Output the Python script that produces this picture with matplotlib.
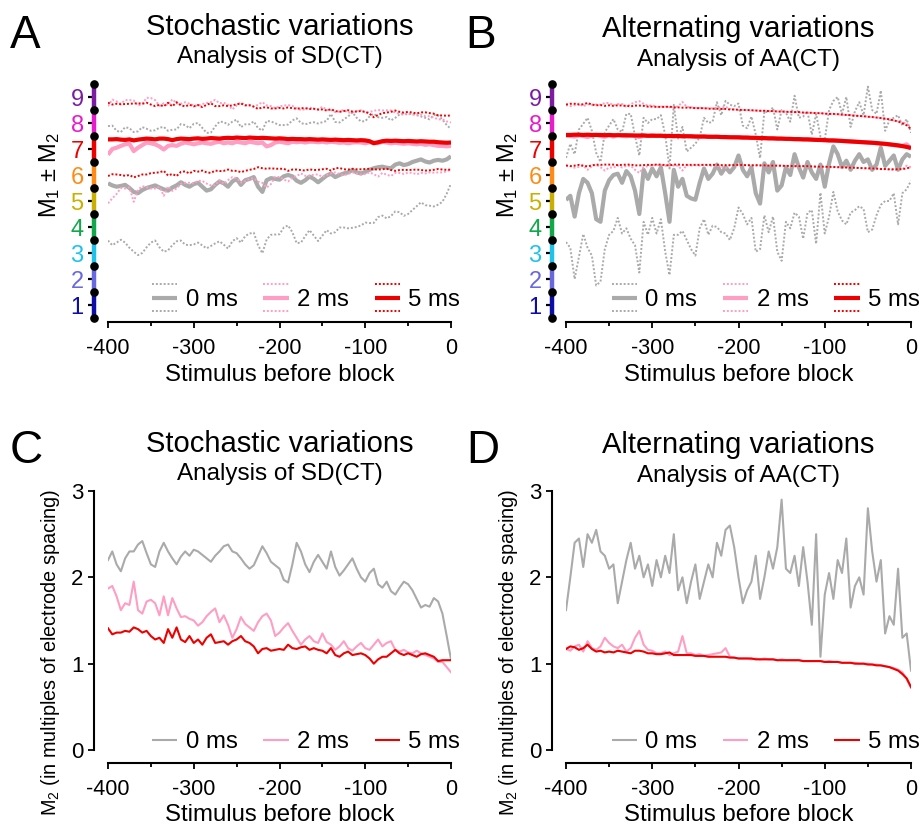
import numpy as np
import matplotlib
matplotlib.use('Agg')
import matplotlib.pyplot as plt
from matplotlib.legend_handler import HandlerBase
from matplotlib.lines import Line2D
from matplotlib.ticker import MultipleLocator

plt.rcParams['font.family'] = ['Liberation Sans', 'DejaVu Sans']
plt.rcParams['mathtext.fontset'] = 'custom'
plt.rcParams['mathtext.rm'] = 'Liberation Sans'
plt.rcParams['mathtext.it'] = 'Liberation Sans:italic'
plt.rcParams['mathtext.bf'] = 'Liberation Sans:bold'

# ---------------- data ----------------
stimulus = np.arange(-400, 1, 5)          # stimulus before block
conditions = ['0 ms', '2 ms', '5 ms']
xticks = [-400, -300, -200, -100, 0]
xtick_labels = ['-400', '-300', '-200', '-100', '0']
electrodes = [1, 2, 3, 4, 5, 6, 7, 8, 9]
electrode_labels = ['1', '2', '3', '4', '5', '6', '7', '8', '9']
m2_ticks = [0, 1, 2, 3]

# M1 (mean position) - stochastic (SD) analysis
sd_m1_0 = [5.68, 5.60, 5.55, 5.58, 5.62, 5.50, 5.35, 5.30, 5.42, 5.50,
           5.55, 5.60, 5.52, 5.45, 5.40, 5.52, 5.60, 5.72, 5.62, 5.55,
           5.65, 5.70, 5.55, 5.40, 5.45, 5.62, 5.75, 5.68, 5.55, 5.75,
           5.85, 5.62, 5.80, 5.85, 5.92, 5.55, 5.35, 5.80, 5.88, 5.85,
           5.82, 5.95, 6.00, 5.95, 5.78, 5.70, 5.80, 5.94, 5.85, 5.72,
           5.85, 5.98, 6.05, 5.92, 6.00, 6.06, 6.10, 6.19, 6.10, 6.06,
           6.12, 6.20, 6.26, 6.30, 6.32, 6.28, 6.26, 6.40, 6.45, 6.38,
           6.42, 6.50, 6.55, 6.60, 6.52, 6.48, 6.55, 6.58, 6.55, 6.60,
           6.72]
sd_m1_2 = [6.78, 7.00, 7.05, 7.12, 7.18, 7.20, 6.92, 7.05, 7.15, 7.25,
           7.22, 7.18, 7.10, 6.98, 7.12, 7.15, 7.12, 7.20, 7.25, 7.22,
           7.18, 7.22, 7.25, 7.22, 7.20, 7.25, 7.28, 7.22, 7.25, 7.22,
           7.28, 7.25, 7.22, 7.28, 7.25, 7.22, 7.25, 7.10, 7.15, 7.25,
           7.28, 7.25, 7.22, 7.28, 7.26, 7.28, 7.25, 7.28, 7.28, 7.26,
           7.28, 7.25, 7.28, 7.26, 7.24, 7.25, 7.22, 7.25, 7.26, 7.25,
           7.22, 7.26, 7.25, 7.22, 7.28, 7.25, 7.22, 7.24, 7.22, 7.20,
           7.22, 7.20, 7.18, 7.20, 7.16, 7.18, 7.15, 7.12, 7.12, 7.10,
           7.12]
sd_m1_5 = [7.37, 7.37, 7.38, 7.36, 7.35, 7.37, 7.33, 7.36, 7.38, 7.40,
           7.39, 7.37, 7.40, 7.40, 7.38, 7.34, 7.38, 7.40, 7.39, 7.38,
           7.40, 7.41, 7.39, 7.40, 7.42, 7.41, 7.40, 7.42, 7.43, 7.42,
           7.44, 7.43, 7.42, 7.44, 7.43, 7.42, 7.43, 7.42, 7.41, 7.40,
           7.41, 7.40, 7.38, 7.39, 7.38, 7.38, 7.37, 7.38, 7.37, 7.36,
           7.37, 7.36, 7.35, 7.36, 7.35, 7.34, 7.35, 7.34, 7.33, 7.34,
           7.33, 7.30, 7.22, 7.26, 7.30, 7.32, 7.31, 7.32, 7.31, 7.30,
           7.31, 7.30, 7.29, 7.30, 7.29, 7.28, 7.28, 7.26, 7.25, 7.24,
           7.25]

# M2 (spread) - stochastic (SD) analysis
sd_m2_0 = [2.20, 2.30, 2.15, 2.07, 2.22, 2.30, 2.30, 2.38, 2.42, 2.28,
           2.15, 2.12, 2.30, 2.40, 2.30, 2.22, 2.15, 2.24, 2.30, 2.25,
           2.32, 2.30, 2.26, 2.22, 2.18, 2.25, 2.30, 2.36, 2.38, 2.30,
           2.28, 2.22, 2.15, 2.10, 2.14, 2.25, 2.36, 2.28, 2.18, 2.14,
           2.10, 1.97, 1.94, 2.15, 2.40, 2.30, 2.15, 2.06, 2.18, 2.26,
           2.18, 2.10, 2.30, 2.12, 2.02, 2.08, 2.15, 2.22, 2.10, 2.00,
           1.95, 2.05, 2.10, 1.92, 1.88, 1.95, 1.84, 1.80, 1.88, 1.95,
           1.92, 1.85, 1.75, 1.65, 1.68, 1.66, 1.76, 1.72, 1.58, 1.32,
           1.05]
sd_m2_2 = [1.87, 1.90, 1.78, 1.62, 1.70, 1.68, 1.95, 1.62, 1.58, 1.72,
           1.74, 1.70, 1.56, 1.78, 1.56, 1.76, 1.64, 1.54, 1.55, 1.52,
           1.50, 1.44, 1.48, 1.55, 1.60, 1.64, 1.48, 1.56, 1.45, 1.30,
           1.40, 1.54, 1.46, 1.42, 1.38, 1.48, 1.55, 1.58, 1.50, 1.32,
           1.36, 1.42, 1.47, 1.38, 1.30, 1.22, 1.28, 1.32, 1.26, 1.24,
           1.35, 1.25, 1.22, 1.16, 1.20, 1.26, 1.18, 1.15, 1.20, 1.24,
           1.18, 1.16, 1.22, 1.28, 1.20, 1.24, 1.26, 1.16, 1.14, 1.16,
           1.13, 1.12, 1.15, 1.12, 1.10, 1.08, 1.06, 1.02, 1.02, 0.96,
           0.90]
sd_m2_5 = [1.41, 1.34, 1.36, 1.36, 1.38, 1.37, 1.42, 1.40, 1.36, 1.38,
           1.32, 1.28, 1.30, 1.24, 1.40, 1.30, 1.42, 1.28, 1.25, 1.32,
           1.24, 1.28, 1.22, 1.30, 1.34, 1.24, 1.25, 1.26, 1.22, 1.26,
           1.28, 1.32, 1.26, 1.24, 1.20, 1.12, 1.17, 1.18, 1.15, 1.16,
           1.17, 1.16, 1.22, 1.18, 1.17, 1.19, 1.20, 1.16, 1.18, 1.16,
           1.15, 1.12, 1.18, 1.10, 1.08, 1.12, 1.14, 1.10, 1.11, 1.12,
           1.10, 1.06, 1.00, 1.05, 1.08, 1.08, 1.12, 1.16, 1.12, 1.10,
           1.12, 1.10, 1.08, 1.11, 1.12, 1.10, 1.08, 1.03, 1.04, 1.04,
           1.04]

# M1 - alternating (AA) analysis
aa_m1_0 = [5.04, 5.20, 4.40, 5.30, 5.85, 5.70, 5.30, 4.30, 4.20, 5.40,
           5.80, 6.00, 6.05, 5.70, 6.15, 5.95, 5.40, 4.50, 6.20, 5.85,
           6.25, 5.95, 6.30, 5.30, 4.20, 6.20, 5.55, 5.85, 5.20, 5.10,
           5.05, 5.70, 6.25, 5.85, 6.05, 6.40, 6.05, 6.30, 6.10, 6.30,
           6.75, 6.20, 5.95, 6.30, 5.30, 4.90, 6.45, 6.10, 6.50, 5.40,
           5.60, 6.30, 6.00, 6.80, 6.30, 5.90, 6.50, 6.10, 5.85, 6.40,
           5.55, 6.45, 7.10, 6.80, 6.30, 6.55, 6.20, 6.55, 6.80, 6.50,
           6.60, 6.20, 6.40, 7.05, 6.35, 6.55, 6.75, 6.20, 6.60, 6.80,
           6.70]
aa_m1_2 = [7.52, 7.50, 7.48, 7.53, 7.50, 7.46, 7.52, 7.55, 7.50, 7.47,
           7.53, 7.48, 7.55, 7.51, 7.49, 7.54, 7.50, 7.46, 7.52, 7.50,
           7.53, 7.50, 7.51, 7.49, 7.51, 7.48, 7.50, 7.49, 7.50, 7.48,
           7.48, 7.47, 7.48, 7.47, 7.46, 7.47, 7.46, 7.45, 7.46, 7.45,
           7.44, 7.44, 7.43, 7.43, 7.42, 7.42, 7.41, 7.41, 7.40, 7.40,
           7.39, 7.39, 7.38, 7.38, 7.37, 7.37, 7.36, 7.36, 7.35, 7.34,
           7.34, 7.33, 7.32, 7.32, 7.31, 7.30, 7.29, 7.28, 7.27, 7.26,
           7.25, 7.24, 7.22, 7.21, 7.19, 7.17, 7.15, 7.13, 7.12, 7.18,
           7.00]
aa_m1_5 = [7.54, 7.54, 7.55, 7.55, 7.54, 7.55, 7.54, 7.54, 7.54, 7.53,
           7.54, 7.53, 7.53, 7.53, 7.53, 7.52, 7.52, 7.52, 7.52, 7.51,
           7.51, 7.51, 7.51, 7.50, 7.50, 7.50, 7.50, 7.49, 7.49, 7.49,
           7.48, 7.48, 7.48, 7.47, 7.47, 7.47, 7.46, 7.46, 7.45, 7.45,
           7.45, 7.44, 7.44, 7.43, 7.43, 7.42, 7.42, 7.41, 7.41, 7.40,
           7.40, 7.39, 7.39, 7.38, 7.38, 7.37, 7.37, 7.36, 7.35, 7.35,
           7.34, 7.33, 7.33, 7.32, 7.31, 7.30, 7.29, 7.28, 7.27, 7.26,
           7.25, 7.24, 7.23, 7.21, 7.20, 7.18, 7.16, 7.14, 7.11, 7.08,
           7.04]

# M2 - alternating (AA) analysis
aa_m2_0 = [1.62, 2.00, 2.40, 2.45, 2.12, 2.50, 2.40, 2.55, 2.30, 2.25,
           2.10, 2.15, 1.70, 1.95, 2.20, 2.40, 2.10, 2.25, 2.00, 2.15,
           1.90, 2.20, 2.00, 2.25, 2.05, 2.50, 1.85, 2.00, 1.70, 1.95,
           2.15, 1.75, 1.95, 2.15, 2.00, 2.40, 2.25, 2.55, 2.60, 2.35,
           2.00, 1.70, 1.85, 1.95, 2.25, 1.75, 2.00, 2.30, 2.10, 2.35,
           2.90, 2.10, 2.05, 2.25, 1.90, 2.35, 1.95, 1.45, 2.50, 1.08,
           1.80, 2.05, 1.75, 2.20, 2.05, 2.45, 1.65, 1.90, 2.00, 1.80,
           2.80, 2.30, 1.95, 2.20, 1.35, 1.55, 1.45, 2.10, 1.30, 1.35,
           0.92]
aa_m2_2 = [1.17, 1.15, 1.20, 1.22, 1.14, 1.26, 1.18, 1.16, 1.20, 1.30,
           1.24, 1.20, 1.18, 1.22, 1.14, 1.18, 1.30, 1.38, 1.22, 1.16,
           1.15, 1.12, 1.12, 1.14, 1.10, 1.12, 1.14, 1.32, 1.12, 1.12,
           1.10, 1.11, 1.09, 1.10, 1.11, 1.12, 1.13, 1.18, 1.08, 1.07,
           1.06, 1.06, 1.06, 1.05, 1.06, 1.05, 1.06, 1.05, 1.05, 1.04,
           1.05, 1.04, 1.04, 1.04, 1.04, 1.03, 1.03, 1.03, 1.03, 1.03,
           1.02, 1.03, 1.02, 1.02, 1.01, 1.01, 1.01, 1.01, 1.00, 1.00,
           1.00, 0.99, 0.99, 0.98, 0.97, 0.96, 0.95, 0.93, 0.90, 0.82,
           0.72]
aa_m2_5 = [1.17, 1.20, 1.19, 1.16, 1.18, 1.22, 1.17, 1.14, 1.15, 1.13,
           1.14, 1.13, 1.15, 1.14, 1.13, 1.12, 1.15, 1.15, 1.14, 1.12,
           1.12, 1.11, 1.11, 1.12, 1.13, 1.10, 1.10, 1.10, 1.10, 1.10,
           1.09, 1.09, 1.09, 1.08, 1.08, 1.08, 1.08, 1.08, 1.07, 1.07,
           1.06, 1.06, 1.06, 1.06, 1.05, 1.05, 1.05, 1.05, 1.05, 1.04,
           1.04, 1.04, 1.04, 1.04, 1.04, 1.03, 1.03, 1.03, 1.03, 1.03,
           1.02, 1.02, 1.02, 1.02, 1.01, 1.01, 1.01, 1.00, 1.00, 1.00,
           0.99, 0.99, 0.98, 0.98, 0.97, 0.96, 0.94, 0.92, 0.88, 0.83,
           0.73]

# ---------------- style ----------------
cond_colors = ['#aaaaaa', '#ff9dc3', '#ee0000']
electrode_colors = ['#0d0daa', '#6868e0', '#1fc3ea', '#10a84a', '#c9b000',
                    '#ff8a14', '#ee0000', '#e81ccc', '#7d1ca3']

W, H = 921, 825
fig = plt.figure(figsize=(W / 100, H / 100), dpi=100)


def px_axes(l, r, t, b):
    return fig.add_axes([l / W, 1 - b / H, (r - l) / W, (b - t) / H])


def ftext(x, y, s, **kw):
    fig.text(x / W, 1 - y / H, s, **kw)


class BandHandler(HandlerBase):
    def __init__(self, band, gap=9.5):
        super().__init__()
        self.band = band
        self.gap = gap

    def create_artists(self, legend, orig, xd, yd, w, h, fs, trans):
        c = orig.get_color()
        y0 = (h - yd) / 2
        xs = [-xd, w - xd]
        arts = [Line2D(xs, [y0, y0], color=c, lw=orig.get_linewidth(),
                       solid_capstyle='butt')]
        if self.band:
            for dy in (self.gap, -self.gap):
                arts.append(Line2D(xs, [y0 + dy, y0 + dy], color=c, lw=1.4,
                                   linestyle=(0, (1, 1))))
        for a in arts:
            a.set_transform(trans)
        return arts


def style_x(ax, offset):
    ax.set_xlim(-400, 0)
    for s in ('top', 'right'):
        ax.spines[s].set_visible(False)
    ax.spines['bottom'].set_position(('outward', offset))
    ax.spines['bottom'].set_linewidth(1.5)
    ax.set_xticks(xticks)
    ax.set_xticklabels(xtick_labels)
    ax.xaxis.set_minor_locator(MultipleLocator(50))
    ax.tick_params(axis='x', which='major', length=4.3, width=1.3, pad=7.0,
                   labelsize=15.5)
    ax.tick_params(axis='x', which='minor', length=2.6, width=1.3)
    ax.set_xlabel('Stimulus before block', fontsize=17.3)


def make_legend(ax, handles, band, x, y):
    ax.legend(handles, conditions, loc='center left', bbox_to_anchor=(x, y),
              ncol=3, frameon=False, fontsize=17.3, handlelength=1.05,
              handletextpad=0.35, columnspacing=1.08, borderpad=0,
              borderaxespad=0,
              handler_map={h: BandHandler(band) for h in handles})


def panel_band(ax, m1s, m2s, xlab_y, leg_x):
    handles = []
    for m1, m2, c in zip(m1s, m2s, cond_colors):
        m1 = np.asarray(m1)
        m2 = np.asarray(m2)
        ax.plot(stimulus, m1 + m2, color=c, lw=1.4, linestyle=(0, (1, 1)))
        ax.plot(stimulus, m1 - m2, color=c, lw=1.4, linestyle=(0, (1, 1)))
        ln, = ax.plot(stimulus, m1, color=c, lw=3.0, solid_capstyle='butt')
        handles.append(ln)
    style_x(ax, 3)
    ax.set_ylim(0.5, 9.5)
    ax.spines['left'].set_visible(False)
    ax.spines['left'].set_position(('outward', 10))
    ax.set_yticks(electrodes)
    ax.set_yticklabels(electrode_labels)
    ax.tick_params(axis='y', length=4.0, width=1.6, pad=3.5, labelsize=17)
    for t, c in zip(ax.yaxis.get_major_ticks(), electrode_colors):
        t.tick1line.set_color(c)
        t.label1.set_color(c)
    tr = ax.get_yaxis_transform(which='tick1')
    for e, c in zip(electrodes, electrode_colors):
        ax.plot([0, 0], [e - 0.5, e + 0.5], color=c, lw=3.2,
                solid_capstyle='butt', transform=tr, clip_on=False)
    bounds = [e - 0.5 for e in electrodes] + [electrodes[-1] + 0.5]
    ax.plot([0] * len(bounds), bounds, 'o', color='k', ms=5.2,
            transform=tr, clip_on=False, zorder=5)
    ax.set_ylabel(r'M$\mathregular{_1}$ ± M$\mathregular{_2}$', fontsize=17)
    ax.yaxis.set_label_coords(-0.134, 0.613)
    ax.xaxis.set_label_coords(0.5, xlab_y)
    make_legend(ax, handles, True, leg_x, 0.077)


def panel_m2(ax, m2s, leg_x):
    handles = []
    for m2, c in zip(m2s, cond_colors):
        ln, = ax.plot(stimulus, m2, color=c, lw=1.5)
        handles.append(ln)
    style_x(ax, 9.4)
    ax.set_ylim(0, 3)
    ax.spines['left'].set_position(('outward', 10))
    ax.spines['left'].set_linewidth(1.5)
    ax.set_yticks(m2_ticks)
    ax.tick_params(axis='y', length=4.3, width=1.3, pad=3.5, labelsize=16)
    ax.set_ylabel(r'M$\mathregular{_2}$ (in multiples of electrode spacing)',
                  fontsize=14.3)
    ax.yaxis.set_label_coords(-0.134, 0.378)
    ax.xaxis.set_label_coords(0.5, -0.207)
    make_legend(ax, handles, False, leg_x, 0.031)


axA = px_axes(108, 451, 84, 318)
axB = px_axes(566, 911, 84, 318)
axC = px_axes(108, 451, 491, 750)
axD = px_axes(566, 911, 491, 750)

panel_band(axA, [sd_m1_0, sd_m1_2, sd_m1_5], [sd_m2_0, sd_m2_2, sd_m2_5],
           -0.195, 0.128)
panel_band(axB, [aa_m1_0, aa_m1_2, aa_m1_5], [aa_m2_0, aa_m2_2, aa_m2_5],
           -0.195, 0.132)
panel_m2(axC, [sd_m2_0, sd_m2_2, sd_m2_5], 0.128)
panel_m2(axD, [aa_m2_0, aa_m2_2, aa_m2_5], 0.132)

# titles and panel letters
ftext(279.5, 35, 'Stochastic variations', ha='center', va='baseline', fontsize=21)
ftext(279.5, 63, 'Analysis of SD(CT)', ha='center', va='baseline', fontsize=17.5)
ftext(738.5, 37, 'Alternating variations', ha='center', va='baseline', fontsize=21)
ftext(738.5, 66, 'Analysis of AA(CT)', ha='center', va='baseline', fontsize=17.5)
ftext(279.5, 452, 'Stochastic variations', ha='center', va='baseline', fontsize=21)
ftext(279.5, 480, 'Analysis of SD(CT)', ha='center', va='baseline', fontsize=17.5)
ftext(738.5, 453, 'Alternating variations', ha='center', va='baseline', fontsize=21)
ftext(738.5, 482, 'Analysis of AA(CT)', ha='center', va='baseline', fontsize=17.5)

for letter, x, y in [('A', 10, 48), ('B', 465, 48), ('C', 10, 463), ('D', 466, 463)]:
    ftext(x, y, letter, ha='left', va='baseline', fontsize=33)

fig.savefig('out.png', dpi=100)
